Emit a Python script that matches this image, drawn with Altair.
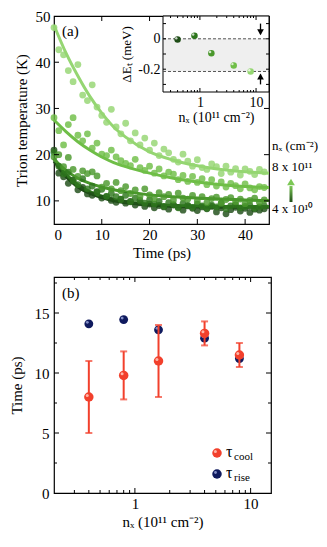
import altair as alt
import pandas as pd

FONT = "Liberation Serif"

# ---------------- Panel (a) data ----------------
series = ["4e10", "8e10", "1.6e11", "4e11", "8e11"]
greens = ["#1f4d17", "#2e761d", "#4a982c", "#6fbe47", "#95d672"]
t_pts = list(range(45))
T_s1 = [21.0, 16.0, 15.2, 13.8, 14.5, 12.4, 12.9, 11.5, 11.2, 12.0, 10.6, 10.9, 10.1, 9.7, 10.4,
        9.5, 9.9, 9.1, 9.6, 8.8, 9.3, 8.5, 9.0, 8.7, 8.2, 9.1, 8.6, 8.0, 8.9, 8.4,
        7.9, 8.7, 8.3, 8.8, 7.6, 8.5, 7.2, 8.1, 8.6, 7.8, 8.4, 7.5, 8.2, 8.0, 8.3]
T_s2 = [20.5, 17.5, 15.8, 16.2, 14.4, 13.5, 14.8, 12.6, 13.2, 11.9, 12.5, 11.0, 11.6, 10.9, 10.3,
        11.2, 9.8, 10.6, 10.1, 9.5, 10.2, 9.3, 9.9, 8.8, 9.6, 9.2, 8.5, 9.4, 9.0, 8.6,
        9.3, 8.9, 8.4, 9.1, 8.7, 9.5, 8.3, 8.9, 9.2, 8.5, 8.8, 9.0, 8.4, 8.7, 8.9]
T_s3 = [19.5, 20.0, 17.4, 19.4, 16.8, 15.3, 16.5, 15.9, 16.3, 15.4, 13.0, 13.8, 12.6, 14.0, 12.2,
        13.1, 11.6, 12.4, 11.0, 12.6, 11.3, 10.5, 11.8, 10.9, 11.4, 10.2, 11.7, 10.6, 10.4, 11.2,
        10.0, 10.9, 9.6, 10.5, 10.8, 9.5, 10.3, 10.7, 9.8, 10.4, 9.4, 10.1, 10.6, 9.7, 10.2]
T_s4 = [28.0, 25.2, 22.1, 26.5, 28.0, 24.2, 23.0, 24.5, 21.4, 22.5, 20.1, 19.8, 21.0, 19.5, 18.7,
        18.1, 17.6, 19.0, 17.2, 16.6, 17.5, 16.0, 16.9, 15.4, 16.2, 15.8, 14.6, 15.5, 14.2, 15.3,
        14.0, 14.8, 13.5, 14.6, 13.2, 14.1, 13.0, 13.8, 13.3, 12.6, 13.7, 12.8, 12.4, 13.1, 12.9]
T_s5 = [47.5, 42.7, 41.6, 38.2, 35.8, 39.5, 32.9, 31.7, 35.1, 30.3, 28.5, 27.0, 29.8, 26.0, 24.5,
        26.8, 23.0, 24.7, 22.1, 23.6, 21.0, 22.5, 19.8, 21.2, 20.4, 19.0, 18.4, 20.1, 18.6, 17.5,
        18.9, 17.2, 16.8, 18.0, 17.4, 15.9, 17.5, 16.2, 17.0, 15.6, 16.9, 16.4, 15.7, 16.8, 16.3]

t_fit = [0, 2.5, 5, 7.5, 10, 12.5, 15, 20, 25, 30, 35, 40, 45]
fit_s1 = [18.6, 15.2, 13.0, 11.6, 10.7, 10.0, 9.6, 9.1, 8.8, 8.7, 8.6, 8.6, 8.6]
fit_s2 = [19.2, 15.8, 13.5, 12.0, 11.0, 10.3, 9.8, 9.3, 9.0, 8.9, 8.8, 8.8, 8.8]
fit_s3 = [19.0, 16.6, 14.9, 13.8, 13.0, 12.4, 12.0, 11.3, 10.9, 10.6, 10.4, 10.2, 10.1]
fit_s4 = [27.5, 25.0, 22.8, 21.0, 19.5, 18.3, 17.4, 16.0, 14.9, 14.1, 13.5, 13.1, 12.9]
fit_s5 = [48.0, 42.0, 37.0, 32.6, 29.0, 26.0, 23.8, 20.6, 18.8, 17.6, 16.8, 16.3, 16.0]

# inset data
inset_n = [0.4, 0.8, 1.6, 4, 8]
inset_dE = [-0.005, 0.02, -0.095, -0.175, -0.215]
band_levels = [0.0, -0.215]

# ---------------- Panel (b) data ----------------
nx = [0.4, 0.8, 1.6, 4, 8]
tau_rise = [14.1, 14.45, 13.6, 12.9, 11.2]
tau_cool = [8.0, 9.8, 11.0, 13.3, 11.5]
cool_lo = [5.0, 7.8, 8.0, 12.3, 10.5]
cool_hi = [11.0, 11.8, 14.0, 14.3, 12.5]

# tick values
a_xticks = [10, 20, 30, 40]
a_yticks = [10, 20, 30, 40]
in_xmajor = [1, 10]
in_xminor = [0.3, 0.4, 0.5, 0.6, 0.7, 0.8, 0.9, 2, 3, 4, 5, 6, 7, 8, 9]
in_yticks = [-0.3, -0.2, -0.1, 0.0, 0.1]
b_xmajor = [1, 10]
b_xminor = [0.3, 0.4, 0.5, 0.6, 0.7, 0.8, 0.9, 2, 3, 4, 5, 6, 7, 8, 9]
b_ymajor = [5, 10, 15]
b_yminor = [2.5, 7.5, 12.5, 17.5]

# ---------------- build tables ----------------
all_T = [T_s1, T_s2, T_s3, T_s4, T_s5]
all_fit = [fit_s1, fit_s2, fit_s3, fit_s4, fit_s5]
pts = pd.DataFrame([{"s": s, "t": t, "T": v} for s, vals in zip(series, all_T) for t, v in zip(t_pts, vals)])
fits = pd.DataFrame([{"s": s, "t": t, "T": v} for s, vals in zip(series, all_fit) for t, v in zip(t_fit, vals)])
ins = pd.DataFrame({"s": series, "n": inset_n, "dE": inset_dE})
band = pd.DataFrame({"hi": [band_levels[0]], "lo": [band_levels[1]]})
lvls = pd.DataFrame({"lvl": band_levels})
one = pd.DataFrame({"k": [0]})

W_A, H_A = 215, 208
W_B, H_B = 217, 216
IN_X0, IN_X1, IN_H = 109, W_A, 76

xs_a = alt.Scale(domain=[0, 45], nice=False, zero=False)
ys_a = alt.Scale(domain=[5, 50], nice=False, zero=False)
col = alt.Scale(domain=series, range=greens)

ax_a_x = alt.Axis(values=[0, 10, 20, 30, 40], title="Time (ps)", labelPadding=3, titlePadding=3)
ax_a_y = alt.Axis(values=[10, 20, 30, 40, 50], title="Trion temperature (K)", labelPadding=4, titlePadding=6)


def xticks(vals, scale, axis, H, length, top=False):
    df = pd.DataFrame({"t": vals})
    y1, y2 = (0, length) if top else (H, H - length)
    return alt.Chart(df).mark_rule(color="black", strokeWidth=1).encode(
        x=alt.X("t:Q", scale=scale, axis=axis), y=alt.value(y1), y2=alt.value(y2))


def yticks(vals, scale, axis, xpos, length, right=False):
    df = pd.DataFrame({"T": vals})
    x2 = xpos - length if right else xpos + length
    return alt.Chart(df).mark_rule(color="black", strokeWidth=1).encode(
        y=alt.Y("T:Q", scale=scale, axis=axis), x=alt.value(xpos), x2=alt.value(x2))


pts_layer = alt.Chart(pts).mark_circle(size=46, opacity=0.82).encode(
    x=alt.X("t:Q", scale=xs_a, axis=ax_a_x),
    y=alt.Y("T:Q", scale=ys_a, axis=ax_a_y),
    color=alt.Color("s:N", scale=col, legend=None),
)
fit_layer = alt.Chart(fits).mark_line(strokeWidth=3, interpolate="monotone").encode(
    x=alt.X("t:Q", scale=xs_a, axis=ax_a_x), y=alt.Y("T:Q", scale=ys_a, axis=ax_a_y),
    color=alt.Color("s:N", scale=col, legend=None),
)

txt = dict(font=FONT, fontSize=13, color="black", align="left", baseline="middle")
right_texts = [
    alt.Chart(one).mark_text(text="nₓ (cm⁻²)", **txt).encode(x=alt.value(W_A + 3), y=alt.value(130)),
    alt.Chart(one).mark_text(text="8 x 10¹¹", **txt).encode(x=alt.value(W_A + 3), y=alt.value(151)),
    alt.Chart(one).mark_text(text="4 x 10¹⁰", **txt).encode(x=alt.value(W_A + 3), y=alt.value(193)),
    alt.Chart(one).mark_text(text="(a)", font=FONT, fontSize=15, color="black", align="left",
                             baseline="middle").encode(x=alt.value(8), y=alt.value(15)),
]
grad = alt.Gradient(gradient="linear", x1=0, x2=0, y1=1, y2=0,
                    stops=[alt.GradientStop(color="#1f4d17", offset=0),
                           alt.GradientStop(color="#7cc855", offset=1)])
arrow_shaft = alt.Chart(one).mark_rect(fill=grad).encode(
    x=alt.value(W_A + 20.5), x2=alt.value(W_A + 23.5), y=alt.value(170), y2=alt.value(186))
arrow_head = alt.Chart(one).mark_point(shape="triangle-up", filled=True, size=60, color="#7cc855",
                                       opacity=1).encode(x=alt.value(W_A + 22), y=alt.value(166))

main = alt.layer(
    fit_layer, pts_layer,
    xticks(a_xticks, xs_a, ax_a_x, H_A, 5), xticks(a_xticks, xs_a, ax_a_x, H_A, 5, top=True),
    yticks(a_yticks, ys_a, ax_a_y, 0, 5), yticks(a_yticks, ys_a, ax_a_y, W_A, 5, right=True),
    *right_texts, arrow_shaft, arrow_head,
)

# ---- inset ----
xs_in = alt.Scale(type="log", domain=[0.22, 17], nice=False, range=[IN_X0, IN_X1])
ys_in = alt.Scale(domain=[-0.35, 0.15], nice=False, zero=False, range=[IN_H, 0])
ax_in_x = alt.Axis(orient="bottom", offset=-(H_A - IN_H), values=[1, 10], format="d",
                   title="nₓ (10¹¹ cm⁻²)", labelFontSize=14, titleFontSize=14, labelPadding=3, titlePadding=1)
ax_in_y = alt.Axis(orient="left", offset=-IN_X0, values=[0, -0.2],
                   labelExpr="datum.value == 0 ? '0' : '-' + format(abs(datum.value), '.1f')",
                   title="ΔEₜ (meV)", labelFontSize=14, titleFontSize=13, labelPadding=3, titlePadding=4)

in_bg = alt.Chart(one).mark_rect(fill="white", stroke="black", strokeWidth=1).encode(
    x=alt.value(IN_X0), x2=alt.value(IN_X1), y=alt.value(0), y2=alt.value(IN_H))
in_band = alt.Chart(band).mark_rect(fill="#efefef").encode(
    y=alt.Y("hi:Q", scale=ys_in, axis=ax_in_y), y2="lo:Q", x=alt.value(IN_X0 + 1), x2=alt.value(IN_X1 - 1))
in_lines = alt.Chart(lvls).mark_rule(color="#555555", strokeDash=[3, 2], strokeWidth=1).encode(
    y=alt.Y("lvl:Q", scale=ys_in, axis=ax_in_y), x=alt.value(IN_X0), x2=alt.value(IN_X1))
in_pts = alt.Chart(ins).mark_circle(size=42, opacity=1).encode(
    x=alt.X("n:Q", scale=xs_in, axis=ax_in_x),
    y=alt.Y("dE:Q", scale=ys_in, axis=ax_in_y),
    color=alt.Color("s:N", scale=col, legend=None),
)
in_hl = alt.Chart(ins).mark_circle(size=6, color="white", opacity=0.75, xOffset=-1.3, yOffset=-1.3).encode(
    x=alt.X("n:Q", scale=xs_in, axis=ax_in_x), y=alt.Y("dE:Q", scale=ys_in, axis=ax_in_y))

arrows = pd.DataFrame({"n": [12, 12], "y1": [0.10, -0.30], "y2": [0.03, -0.235],
                       "tip": [0.03, -0.235]})
in_arr = alt.Chart(arrows).mark_rule(color="black", strokeWidth=1.3).encode(
    x=alt.X("n:Q", scale=xs_in, axis=ax_in_x), y=alt.Y("y1:Q", scale=ys_in, axis=ax_in_y), y2="y2:Q")
in_head_d = alt.Chart(arrows.iloc[[0]]).mark_point(shape="triangle-down", filled=True, size=45,
                                                    color="black", opacity=1, yOffset=-2).encode(
    x=alt.X("n:Q", scale=xs_in, axis=ax_in_x), y=alt.Y("tip:Q", scale=ys_in, axis=ax_in_y))
in_head_u = alt.Chart(arrows.iloc[[1]]).mark_point(shape="triangle-up", filled=True, size=45,
                                                    color="black", opacity=1, yOffset=2).encode(
    x=alt.X("n:Q", scale=xs_in, axis=ax_in_x), y=alt.Y("tip:Q", scale=ys_in, axis=ax_in_y))


def in_xt(vals, length, top=False):
    df = pd.DataFrame({"n": vals})
    y1, y2 = (0, length) if top else (IN_H, IN_H - length)
    return alt.Chart(df).mark_rule(color="black", strokeWidth=1).encode(
        x=alt.X("n:Q", scale=xs_in, axis=ax_in_x), y=alt.value(y1), y2=alt.value(y2))


def in_yt(vals, xpos, length, right=False):
    df = pd.DataFrame({"dE": vals})
    x2 = xpos - length if right else xpos + length
    return alt.Chart(df).mark_rule(color="black", strokeWidth=1).encode(
        y=alt.Y("dE:Q", scale=ys_in, axis=ax_in_y), x=alt.value(xpos), x2=alt.value(x2))


inset = alt.layer(
    in_bg, in_band, in_lines,
    in_xt(in_xmajor, 4), in_xt(in_xmajor, 4, top=True),
    in_xt(in_xminor, 2), in_xt(in_xminor, 2, top=True),
    in_yt(in_yticks, IN_X0, 3), in_yt(in_yticks, IN_X1, 3, right=True),
    in_arr, in_head_d, in_head_u, in_pts, in_hl,
)

top = alt.layer(main, inset).resolve_scale(x="independent", y="independent").properties(
    width=W_A, height=H_A)

# ---------------- Panel (b) ----------------
xs_b = alt.Scale(type="log", domain=[0.2, 15], nice=False)
ys_b = alt.Scale(domain=[0, 18], nice=False, zero=False)
ax_b_x = alt.Axis(values=[1, 10], format="d", title="nₓ (10¹¹ cm⁻²)", labelPadding=3, titlePadding=3)
ax_b_y = alt.Axis(values=[0, 5, 10, 15], title="Time (ps)", labelPadding=5, titlePadding=10)
dfb = pd.DataFrame({"n": nx, "rise": tau_rise, "cool": tau_cool, "lo": cool_lo, "hi": cool_hi})

RED, RED_HL = "#f2402c", "#ffc2b5"
NAVY, NAVY_HL = "#0f1a5e", "#8f9ad0"


def bx():
    return alt.X("n:Q", scale=xs_b, axis=ax_b_x)


def by(f):
    return alt.Y(f + ":Q", scale=ys_b, axis=ax_b_y)


rise_pts = alt.Chart(dfb).mark_circle(size=78, color=NAVY, opacity=1).encode(x=bx(), y=by("rise"))
rise_hl = alt.Chart(dfb).mark_circle(size=8, color=NAVY_HL, opacity=0.9, xOffset=-1.5, yOffset=-1.5).encode(
    x=bx(), y=by("rise"))
err = alt.Chart(dfb).mark_rule(color=RED, strokeWidth=2).encode(x=bx(), y=by("lo"), y2="hi:Q")
cap_lo = alt.Chart(dfb).mark_tick(color=RED, orient="horizontal", size=7, thickness=2).encode(x=bx(), y=by("lo"))
cap_hi = alt.Chart(dfb).mark_tick(color=RED, orient="horizontal", size=7, thickness=2).encode(x=bx(), y=by("hi"))
cool_pts = alt.Chart(dfb).mark_circle(size=90, color=RED, opacity=1).encode(x=bx(), y=by("cool"))
cool_hl = alt.Chart(dfb).mark_circle(size=9, color=RED_HL, opacity=0.9, xOffset=-1.6, yOffset=-1.6).encode(
    x=bx(), y=by("cool"))


def b_xt(vals, length, top=False):
    df = pd.DataFrame({"n": vals})
    y1, y2 = (0, length) if top else (H_B, H_B - length)
    return alt.Chart(df).mark_rule(color="black", strokeWidth=1).encode(
        x=bx(), y=alt.value(y1), y2=alt.value(y2))


def b_yt(vals, xpos, length, right=False):
    df = pd.DataFrame({"v": vals})
    x2 = xpos - length if right else xpos + length
    return alt.Chart(df).mark_rule(color="black", strokeWidth=1).encode(
        y=by("v"), x=alt.value(xpos), x2=alt.value(x2))


LR, LN = 176, 197
LX = 163
leg = [
    alt.Chart(one).mark_circle(size=90, color=RED, opacity=1).encode(x=alt.value(LX), y=alt.value(LR)),
    alt.Chart(one).mark_circle(size=9, color=RED_HL, opacity=0.9).encode(x=alt.value(LX - 1.6), y=alt.value(LR - 1.6)),
    alt.Chart(one).mark_circle(size=90, color=NAVY, opacity=1).encode(x=alt.value(LX), y=alt.value(LN)),
    alt.Chart(one).mark_circle(size=8, color=NAVY_HL, opacity=0.9).encode(x=alt.value(LX - 1.5), y=alt.value(LN - 1.5)),
    alt.Chart(one).mark_text(text="τ", **{**txt, "fontSize": 16}).encode(x=alt.value(LX + 9), y=alt.value(LR - 1)),
    alt.Chart(one).mark_text(text="cool", **{**txt, "fontSize": 11}).encode(x=alt.value(LX + 17), y=alt.value(LR + 4)),
    alt.Chart(one).mark_text(text="τ", **{**txt, "fontSize": 16}).encode(x=alt.value(LX + 9), y=alt.value(LN - 1)),
    alt.Chart(one).mark_text(text="rise", **{**txt, "fontSize": 11}).encode(x=alt.value(LX + 17), y=alt.value(LN + 4)),
    alt.Chart(one).mark_text(text="(b)", font=FONT, fontSize=15, color="black", align="left",
                             baseline="middle").encode(x=alt.value(8), y=alt.value(16)),
]

bottom = alt.layer(
    b_xt(b_xmajor, 5), b_xt(b_xmajor, 5, top=True),
    b_xt(b_xminor, 3), b_xt(b_xminor, 3, top=True),
    b_yt(b_ymajor, 0, 5), b_yt(b_ymajor, W_B, 5, right=True),
    b_yt(b_yminor, 0, 3), b_yt(b_yminor, W_B, 3, right=True),
    rise_pts, rise_hl, err, cap_lo, cap_hi, cool_pts, cool_hl, *leg,
).properties(width=W_B, height=H_B)

chart = alt.vconcat(top, bottom, spacing=14).properties(padding=0).configure_view(
    stroke="black", strokeWidth=1.2
).configure_axis(
    domain=False, ticks=False, grid=False, labelFont=FONT, titleFont=FONT, labelFontSize=15,
    titleFontSize=15, labelColor="black", titleColor="black", titleFontWeight="normal",
    labelOverlap=False,
)

chart.save("out.html", embed_options={"renderer": "svg", "actions": False})
